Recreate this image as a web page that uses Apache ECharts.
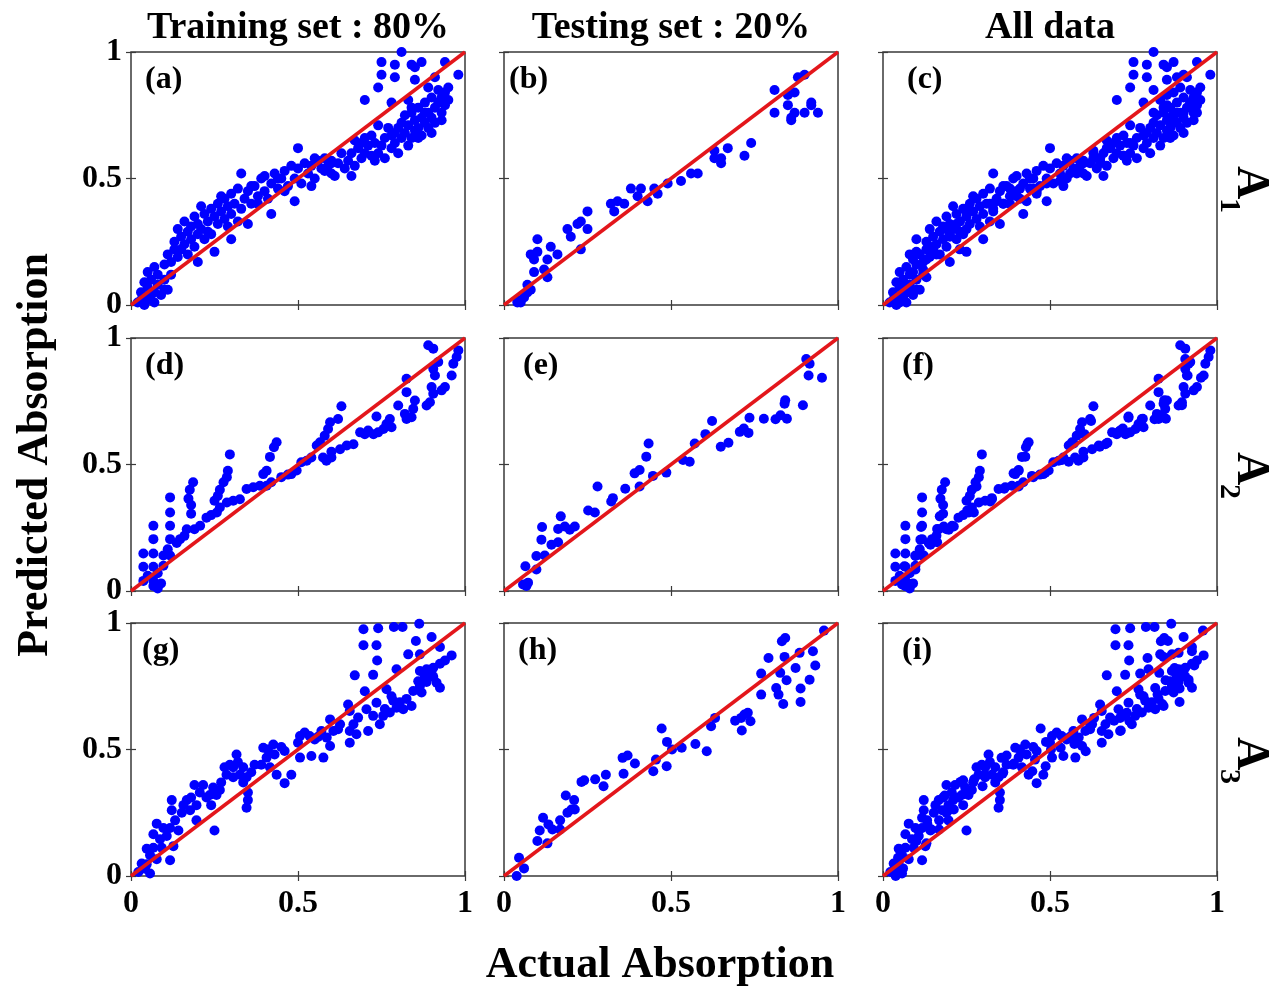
<!DOCTYPE html>
<html>
<head>
<meta charset="utf-8">
<script src="https://cdn.jsdelivr.net/npm/echarts@6/dist/echarts.min.js"></script>
<style>
  html, body { margin: 0; padding: 0; background: #ffffff; }
  #chart { width: 1288px; height: 992px; }
</style>
</head>
<body>
<div id="chart"></div>
<script>
// ---- data: [actual, predicted] ----
var trainA1 = [
  [0.02,0.01],[0.03,0.02],[0.04,0.0],[0.05,0.03],[0.06,0.02],[0.07,0.01],[0.03,0.05],[0.05,0.07],[0.07,0.05],[0.08,0.08],
  [0.04,0.09],[0.06,0.1],[0.09,0.04],[0.1,0.06],[0.11,0.06],[0.08,0.12],[0.05,0.13],[0.1,0.1],[0.12,0.12],[0.07,0.15],
  [0.1,0.16],[0.11,0.2],[0.12,0.17],[0.13,0.22],[0.14,0.19],[0.13,0.25],[0.15,0.27],[0.15,0.22],[0.16,0.24],[0.17,0.29],
  [0.17,0.2],[0.18,0.26],[0.18,0.31],[0.19,0.23],[0.19,0.35],[0.2,0.28],[0.2,0.32],[0.2,0.17],[0.21,0.3],[0.22,0.36],
  [0.22,0.26],[0.23,0.33],[0.24,0.38],[0.24,0.28],[0.25,0.21],[0.25,0.35],[0.26,0.4],[0.26,0.32],[0.27,0.37],[0.28,0.42],
  [0.28,0.34],[0.29,0.39],[0.3,0.36],[0.3,0.44],[0.3,0.26],[0.31,0.4],[0.32,0.33],[0.32,0.46],[0.33,0.38],[0.33,0.52],
  [0.34,0.42],[0.35,0.32],[0.35,0.45],[0.36,0.4],[0.37,0.47],[0.38,0.43],[0.39,0.5],[0.4,0.45],[0.4,0.51],[0.41,0.42],
  [0.42,0.48],[0.42,0.36],[0.43,0.52],[0.44,0.46],[0.45,0.5],[0.46,0.53],[0.47,0.47],[0.49,0.41],[0.48,0.55],[0.49,0.5],
  [0.5,0.62],[0.5,0.54],[0.51,0.48],[0.52,0.56],[0.53,0.52],[0.54,0.47],[0.54,0.55],[0.55,0.5],[0.56,0.57],[0.57,0.54],
  [0.58,0.58],[0.59,0.55],[0.6,0.52],[0.6,0.57],[0.61,0.51],[0.62,0.56],[0.63,0.6],[0.64,0.54],[0.66,0.51],[0.65,0.57],
  [0.66,0.6],[0.67,0.65],[0.67,0.55],[0.68,0.62],[0.69,0.58],[0.7,0.66],[0.7,0.6],[0.71,0.63],[0.72,0.59],[0.72,0.67],
  [0.73,0.64],[0.74,0.6],[0.74,0.71],[0.75,0.63],[0.76,0.66],[0.76,0.58],[0.77,0.7],[0.78,0.62],[0.78,0.67],[0.79,0.64],
  [0.8,0.6],[0.8,0.7],[0.81,0.72],[0.81,0.66],[0.82,0.75],[0.82,0.68],[0.83,0.63],[0.83,0.71],[0.84,0.76],[0.84,0.66],
  [0.85,0.73],[0.85,0.69],[0.86,0.78],[0.86,0.7],[0.87,0.74],[0.87,0.67],[0.88,0.8],[0.88,0.72],[0.89,0.76],[0.89,0.7],
  [0.9,0.82],[0.9,0.74],[0.91,0.78],[0.91,0.72],[0.92,0.8],[0.92,0.85],[0.93,0.76],[0.93,0.82],[0.94,0.79],[0.94,0.84],
  [0.95,0.81],[0.81,1.0],[0.75,0.96],[0.79,0.95],[0.75,0.91],[0.79,0.9],[0.84,0.95],[0.85,0.94],[0.87,0.96],[0.94,0.96],
  [0.98,0.91],[0.85,0.89],[0.91,0.9],[0.74,0.86],[0.89,0.86],[0.7,0.81],[0.78,0.8],[0.83,0.81],[0.84,0.78],[0.6,0.56],
  [0.14,0.3],[0.16,0.33],[0.21,0.39],[0.23,0.29],[0.27,0.43],[0.29,0.31],[0.36,0.47],[0.38,0.4],[0.44,0.5],[0.46,0.45],
  [0.55,0.58],[0.58,0.53],[0.69,0.64],[0.73,0.57],[0.79,0.68],[0.86,0.66],[0.88,0.76],[0.9,0.68],[0.93,0.73],[0.95,0.86]
];
var testA1 = [
  [0.04,0.01],[0.05,0.01],[0.06,0.03],[0.07,0.05],[0.08,0.06],[0.07,0.08],[0.04,0.02],[0.09,0.13],[0.12,0.14],[0.13,0.11],
  [0.13,0.18],[0.08,0.2],[0.09,0.18],[0.1,0.21],[0.1,0.26],[0.14,0.23],[0.16,0.2],[0.19,0.3],[0.2,0.27],[0.22,0.32],
  [0.23,0.33],[0.25,0.37],[0.25,0.3],[0.23,0.22],[0.32,0.4],[0.33,0.37],[0.34,0.41],[0.36,0.4],[0.38,0.46],[0.4,0.43],
  [0.41,0.46],[0.43,0.41],[0.45,0.46],[0.46,0.44],[0.49,0.48],[0.53,0.49],[0.56,0.52],[0.58,0.52],[0.63,0.61],[0.63,0.58],
  [0.65,0.56],[0.65,0.58],[0.67,0.62],[0.72,0.59],[0.74,0.64],[0.81,0.85],[0.81,0.76],[0.85,0.79],[0.85,0.83],[0.86,0.73],
  [0.87,0.84],[0.87,0.76],[0.88,0.9],[0.9,0.76],[0.9,0.91],[0.92,0.8],[0.92,0.79],[0.94,0.76],[0.86,0.74]
];
var trainA2 = [
  [0.037,0.148],[0.037,0.096],[0.037,0.04],[0.067,0.258],[0.067,0.205],[0.067,0.148],[0.067,0.096],[0.067,0.04],[0.067,0.02],[0.08,0.01],
  [0.117,0.37],[0.117,0.31],[0.117,0.258],[0.117,0.205],[0.117,0.14],[0.172,0.365],[0.176,0.4],[0.186,0.43],[0.18,0.34],[0.18,0.305],
  [0.296,0.54],[0.29,0.475],[0.287,0.45],[0.277,0.43],[0.266,0.4],[0.26,0.376],[0.25,0.357],[0.436,0.588],[0.428,0.568],[0.416,0.53],
  [0.406,0.475],[0.396,0.462],[0.42,0.43],[0.406,0.416],[0.097,0.1],[0.097,0.14],[0.11,0.165],[0.137,0.19],[0.147,0.205],[0.16,0.218],
  [0.167,0.244],[0.19,0.244],[0.207,0.258],[0.226,0.29],[0.24,0.3],[0.257,0.31],[0.266,0.33],[0.287,0.35],[0.306,0.357],[0.326,0.363],
  [0.346,0.403],[0.366,0.41],[0.386,0.416],[0.48,0.462],[0.496,0.476],[0.51,0.509],[0.526,0.515],[0.54,0.528],[0.556,0.575],[0.566,0.588],
  [0.58,0.614],[0.59,0.64],[0.596,0.667],[0.62,0.68],[0.63,0.73],[0.575,0.528],[0.585,0.515],[0.6,0.528],[0.626,0.56],[0.646,0.575],
  [0.666,0.58],[0.686,0.627],[0.71,0.634],[0.726,0.62],[0.74,0.627],[0.756,0.64],[0.765,0.66],[0.78,0.647],[0.735,0.69],[0.775,0.68],
  [0.8,0.733],[0.82,0.7],[0.825,0.68],[0.84,0.687],[0.845,0.72],[0.825,0.786],[0.825,0.839],[0.85,0.753],[0.885,0.733],[0.895,0.746],
  [0.905,0.78],[0.9,0.806],[0.93,0.793],[0.94,0.806],[0.91,0.852],[0.905,0.878],[0.92,0.905],[0.89,0.971],[0.905,0.958],[0.96,0.852],
  [0.965,0.898],[0.98,0.951],[0.975,0.925],[0.05,0.06],[0.08,0.07],[0.09,0.03],[0.45,0.45],[0.47,0.46],[0.6,0.55],[0.7,0.62]
];
var testA2 = [
  [0.057,0.026],[0.072,0.033],[0.067,0.02],[0.064,0.098],[0.097,0.085],[0.097,0.138],[0.122,0.14],[0.112,0.203],[0.114,0.253],[0.142,0.183],
  [0.162,0.193],[0.162,0.245],[0.17,0.295],[0.182,0.255],[0.197,0.242],[0.212,0.255],[0.252,0.318],[0.272,0.31],[0.28,0.413],[0.321,0.354],
  [0.326,0.367],[0.363,0.404],[0.406,0.413],[0.391,0.465],[0.406,0.478],[0.426,0.531],[0.433,0.583],[0.446,0.455],[0.486,0.468],[0.536,0.518],
  [0.556,0.511],[0.571,0.583],[0.603,0.62],[0.623,0.672],[0.649,0.57],[0.672,0.586],[0.706,0.629],[0.718,0.642],[0.732,0.625],[0.735,0.685],
  [0.778,0.681],[0.813,0.679],[0.828,0.695],[0.847,0.681],[0.84,0.74],[0.842,0.754],[0.895,0.734],[0.905,0.917],[0.915,0.898],[0.912,0.852],
  [0.952,0.843]
];
var trainA3 = [
  [0.696,0.975],[0.74,0.979],[0.787,0.984],[0.813,0.984],[0.863,0.997],[0.696,0.912],[0.735,0.912],[0.853,0.929],[0.9,0.945],[0.737,0.852],
  [0.83,0.876],[0.865,0.876],[0.925,0.905],[0.67,0.793],[0.725,0.795],[0.795,0.817],[0.7,0.73],[0.765,0.738],[0.735,0.685],[0.865,0.81],
  [0.885,0.817],[0.905,0.823],[0.925,0.839],[0.94,0.852],[0.96,0.872],[0.905,0.787],[0.885,0.767],[0.865,0.751],[0.845,0.731],[0.925,0.744],
  [0.915,0.764],[0.87,0.725],[0.825,0.7],[0.805,0.687],[0.785,0.693],[0.84,0.672],[0.815,0.659],[0.795,0.665],[0.775,0.646],[0.755,0.633],
  [0.725,0.633],[0.745,0.6],[0.71,0.573],[0.705,0.659],[0.68,0.626],[0.666,0.6],[0.655,0.573],[0.655,0.527],[0.675,0.56],[0.655,0.652],
  [0.65,0.678],[0.626,0.6],[0.606,0.573],[0.596,0.619],[0.586,0.547],[0.596,0.514],[0.576,0.468],[0.57,0.573],[0.55,0.54],[0.535,0.553],
  [0.52,0.567],[0.506,0.553],[0.5,0.527],[0.54,0.474],[0.506,0.468],[0.46,0.494],[0.45,0.51],[0.426,0.52],[0.41,0.5],[0.396,0.507],
  [0.43,0.48],[0.406,0.468],[0.39,0.44],[0.436,0.4],[0.46,0.367],[0.48,0.4],[0.416,0.43],[0.316,0.48],[0.296,0.44],[0.28,0.43],
  [0.306,0.43],[0.32,0.45],[0.336,0.43],[0.326,0.4],[0.306,0.39],[0.286,0.4],[0.346,0.39],[0.36,0.41],[0.336,0.37],[0.35,0.33],
  [0.346,0.27],[0.35,0.3],[0.19,0.36],[0.216,0.36],[0.246,0.35],[0.266,0.34],[0.236,0.32],[0.206,0.33],[0.18,0.31],[0.167,0.3],
  [0.157,0.28],[0.196,0.28],[0.226,0.31],[0.256,0.32],[0.24,0.28],[0.122,0.3],[0.122,0.26],[0.152,0.25],[0.177,0.26],[0.196,0.22],
  [0.25,0.18],[0.077,0.207],[0.097,0.19],[0.117,0.19],[0.132,0.22],[0.142,0.18],[0.107,0.158],[0.087,0.145],[0.067,0.165],[0.047,0.108],
  [0.067,0.112],[0.092,0.112],[0.127,0.118],[0.117,0.062],[0.077,0.066],[0.057,0.082],[0.032,0.049],[0.042,0.029],[0.057,0.01],[0.022,0.016],
  [0.047,0.046],[0.88,0.79],[0.9,0.8],[0.86,0.77],[0.76,0.66],[0.78,0.71],[0.62,0.58],[0.56,0.55],[0.37,0.44],[0.27,0.37]
];
var testA3 = [
  [0.038,0.0],[0.06,0.03],[0.045,0.072],[0.1,0.138],[0.13,0.129],[0.107,0.18],[0.117,0.23],[0.133,0.204],[0.145,0.184],[0.168,0.22],
  [0.168,0.184],[0.185,0.318],[0.19,0.25],[0.202,0.263],[0.21,0.3],[0.212,0.263],[0.232,0.372],[0.24,0.378],[0.273,0.382],[0.298,0.355],
  [0.305,0.4],[0.358,0.404],[0.355,0.467],[0.37,0.476],[0.392,0.445],[0.447,0.414],[0.455,0.46],[0.472,0.583],[0.487,0.434],[0.488,0.53],
  [0.503,0.5],[0.532,0.507],[0.573,0.522],[0.607,0.493],[0.62,0.592],[0.632,0.625],[0.692,0.614],[0.71,0.625],[0.712,0.575],[0.72,0.638],
  [0.73,0.645],[0.738,0.612],[0.77,0.717],[0.77,0.8],[0.792,0.862],[0.815,0.743],[0.822,0.717],[0.827,0.803],[0.832,0.928],[0.842,0.941],
  [0.836,0.68],[0.84,0.866],[0.846,0.774],[0.873,0.822],[0.885,0.882],[0.888,0.741],[0.888,0.688],[0.915,0.776],[0.925,0.888],[0.932,0.832],
  [0.958,0.97]
];

var colTitles = ['Training set : 80%', 'Testing set : 20%', 'All data'];
var rowNames = ['1', '2', '3'];
var panelTags = ['(a)', '(b)', '(c)', '(d)', '(e)', '(f)', '(g)', '(h)', '(i)'];
var identityLine = [[0, 0], [1, 1]];

var panels = [
  trainA1, testA1, trainA1.concat(testA1),
  trainA2, testA2, trainA2.concat(testA2),
  trainA3, testA3, trainA3.concat(testA3)
];

// ---- layout ----
var colLeft = [131, 504, 883];
var rowTop = [52, 338, 623];
var boxW = 334, boxH = 253;
var tagDx = [14, 5, 24, 14, 19, 19, 11, 14, 19];
var serif = '"Liberation Serif", "Times New Roman", serif';

var chartDom = document.getElementById('chart');
var myChart = echarts.init(chartDom);

var grids = [], xAxes = [], yAxes = [], series = [], graphics = [];

for (var i = 0; i < 9; i++) {
    var r = Math.floor(i / 3), c = i % 3;
    grids.push({
        left: colLeft[c], top: rowTop[r], width: boxW, height: boxH,
        show: true, borderColor: '#3a3a3a', borderWidth: 1.5, backgroundColor: '#ffffff'
    });
    ['bottom', 'top'].forEach(function (pos) {
        xAxes.push({
            type: 'value', gridIndex: i, position: pos, min: 0, max: 1, interval: 0.5,
            axisLine: { show: false },
            axisTick: { show: true, inside: true, length: 5, lineStyle: { color: '#3a3a3a', width: 1.2 } },
            splitLine: { show: false },
            axisLabel: {
                show: pos === 'bottom' && r === 2,
                margin: 12, color: '#000', fontFamily: serif, fontWeight: 'bold', fontSize: 32,
                showMinLabel: true, showMaxLabel: true
            }
        });
    });
    ['left', 'right'].forEach(function (pos) {
        yAxes.push({
            type: 'value', gridIndex: i, position: pos, min: 0, max: 1, interval: 0.5,
            axisLine: { show: false },
            axisTick: { show: true, inside: true, length: 5, lineStyle: { color: '#3a3a3a', width: 1.2 } },
            splitLine: { show: false },
            axisLabel: {
                show: pos === 'left' && c === 0,
                margin: 9, color: '#000', fontFamily: serif, fontWeight: 'bold', fontSize: 32,
                showMinLabel: true, showMaxLabel: true
            }
        });
    });
    series.push({
        type: 'scatter', xAxisIndex: i * 2, yAxisIndex: i * 2,
        data: panels[i], symbolSize: 10, clip: false,
        itemStyle: { color: '#0000ff', opacity: 1 },
        z: 2, silent: true
    });
    series.push({
        type: 'line', xAxisIndex: i * 2, yAxisIndex: i * 2,
        data: identityLine, symbol: 'none',
        lineStyle: { color: '#e3161b', width: 3.5 },
        z: 3, silent: true
    });
    graphics.push({
        type: 'text', x: colLeft[c] + tagDx[i], y: rowTop[r] + 28,
        style: { text: panelTags[i], fill: '#000', font: 'bold 32px ' + serif, verticalAlign: 'middle' }
    });
}

colTitles.forEach(function (t, c) {
    graphics.push({
        type: 'text', x: colLeft[c] + boxW / 2, y: 28,
        style: { text: t, fill: '#000', font: 'bold 38px ' + serif, align: 'center', verticalAlign: 'middle' }
    });
});

rowNames.forEach(function (n, r) {
    var cy = rowTop[r] + boxH / 2;
    graphics.push({
        type: 'text', x: 1250, y: cy + 4, rotation: -Math.PI / 2,
        style: { text: 'A', fill: '#000', font: 'bold 46px ' + serif, align: 'center', verticalAlign: 'middle' }
    });
    graphics.push({
        type: 'text', x: 1229, y: cy + 27, rotation: -Math.PI / 2,
        style: { text: n, fill: '#000', font: 'bold 30px ' + serif, align: 'center', verticalAlign: 'middle' }
    });
});

graphics.push({
    type: 'text', x: 36, y: 455, rotation: Math.PI / 2,
    style: { text: 'Predicted Absorption', fill: '#000', font: 'bold 44px ' + serif, align: 'center', verticalAlign: 'middle' }
});
graphics.push({
    type: 'text', x: 660, y: 966,
    style: { text: 'Actual Absorption', fill: '#000', font: 'bold 44px ' + serif, align: 'center', verticalAlign: 'middle' }
});

var option = {
    backgroundColor: '#ffffff',
    animation: false,
    grid: grids,
    xAxis: xAxes,
    yAxis: yAxes,
    series: series,
    graphic: graphics
};

myChart.setOption(option);
</script>
</body>
</html>
